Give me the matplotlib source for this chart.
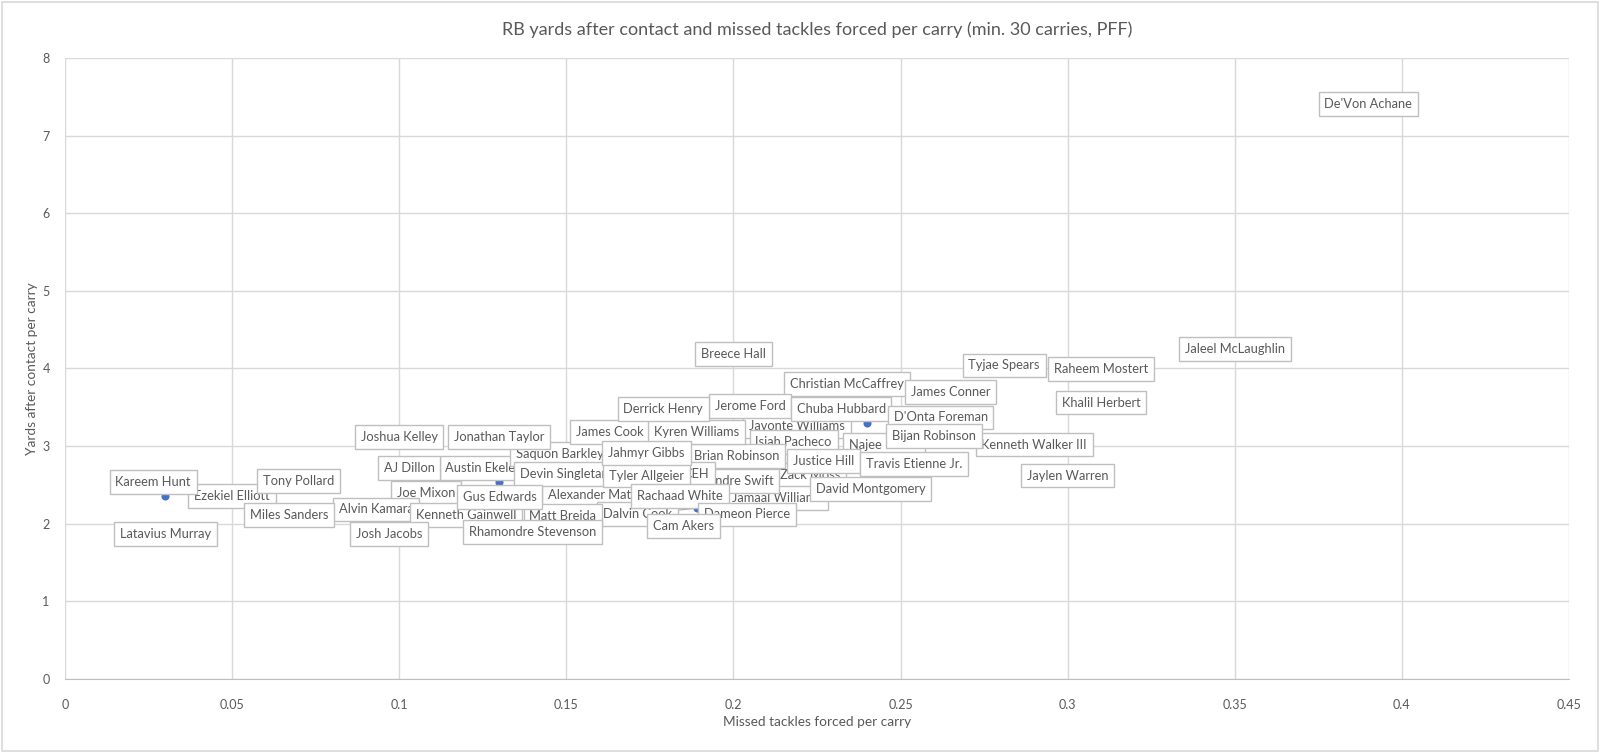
import matplotlib.pyplot as plt
from matplotlib.patches import Rectangle

# players, drawn in this order (later labels sit on top)
players = [
    "Ezekiel Elliott", "Zack Moss", "Jamaal Williams", "Austin Ekeler", "Alexander Mattison",
    "D'Andre Swift", "Javonte Williams", "Najee Harris", "Kenneth Walker III", "Saquon Barkley",
    "Devin Singletary", "Joe Mixon", "Alvin Kamara", "Dalvin Cook", "Christian McCaffrey",
    "Jerome Ford", "James Conner", "Chuba Hubbard", "D'Onta Foreman", "Bijan Robinson",
    "Isiah Pacheco", "Justice Hill", "Travis Etienne Jr.", "David Montgomery", "Brian Robinson",
    "CEH", "Tyler Allgeier", "James Cook", "Kyren Williams", "Jahmyr Gibbs",
    "Derrick Henry", "Rachaad White", "Dameon Pierce", "Cam Akers", "Matt Breida",
    "Kenneth Gainwell", "Gus Edwards", "Rhamondre Stevenson", "Josh Jacobs", "Miles Sanders",
    "Latavius Murray", "Kareem Hunt", "Tony Pollard", "AJ Dillon", "Joshua Kelley",
    "Jonathan Taylor", "Jaylen Warren", "Khalil Herbert", "Raheem Mostert", "Tyjae Spears",
    "Breece Hall", "Jaleel McLaughlin", "De'Von Achane",
]

# missed tackles forced per carry
mtf = [
    0.050, 0.223, 0.213, 0.125, 0.161,
    0.200, 0.219, 0.245, 0.290, 0.148,
    0.150, 0.108, 0.100, 0.189, 0.234,
    0.205, 0.265, 0.240, 0.262, 0.260,
    0.218, 0.227, 0.254, 0.241, 0.201,
    0.189, 0.174, 0.163, 0.189, 0.174,
    0.179, 0.184, 0.204, 0.185, 0.149,
    0.120, 0.130, 0.140, 0.097, 0.067,
    0.030, 0.030, 0.070, 0.103, 0.100,
    0.130, 0.300, 0.310, 0.310, 0.281,
    0.200, 0.350, 0.390,
]

# yards after contact per carry
yco = [
    2.36, 2.63, 2.33, 2.72, 2.37,
    2.55, 3.26, 3.02, 3.02, 2.90,
    2.64, 2.40, 2.07, 2.20, 3.80,
    3.52, 3.70, 3.30, 3.37, 3.13,
    3.05, 2.81, 2.77, 2.45, 2.87,
    2.64, 2.62, 3.18, 3.18, 2.91,
    3.48, 2.36, 2.12, 1.97, 2.10,
    2.11, 2.54, 1.89, 1.87, 2.11,
    1.87, 2.36, 2.55, 2.72, 3.12,
    3.12, 2.62, 3.56, 3.99, 4.04,
    4.19, 4.25, 7.41,
]

# labels that were dragged off their point (pixel offsets)
label_shift = {
    "Kareem Hunt": (-12, 14),
    "Chuba Hubbard": (-26, 14),
    "Gus Edwards": (0, -15),
    "Alvin Kamara": (-23, 9),
    "Dalvin Cook": (-59, -6),
}

x_ticks = [0, 0.05, 0.1, 0.15, 0.2, 0.25, 0.3, 0.35, 0.4, 0.45]
y_ticks = [0, 1, 2, 3, 4, 5, 6, 7, 8]

txt = '#595959'
grid = '#D9D9D9'
font = ['Lato', 'DejaVu Sans']
plt.rcParams['font.family'] = font

fig = plt.figure(figsize=(16, 7.52), dpi=100)
ax = fig.add_axes([0.0406, 0.097, 0.9400, 0.826])

ax.scatter(mtf, yco, s=34, color='#4472C4', zorder=3, linewidths=0)

for i, name in enumerate(players):
    dx, dy = label_shift.get(name, (0, 0))
    arrow = None
    if abs(dx) > 40:
        arrow = dict(arrowstyle='-', color='#A6A6A6', lw=0.8, shrinkA=0, shrinkB=3)
    ax.annotate(name, (mtf[i], yco[i]), xytext=(dx, dy), textcoords='offset pixels',
                ha='center', va='center', fontsize=9.3, color=txt, zorder=10 + i,
                bbox=dict(boxstyle='square,pad=0.45', fc='white', ec='#BFBFBF', lw=1),
                arrowprops=arrow)

ax.set_xlim(0, 0.45)
ax.set_ylim(0, 8)
ax.set_xticks(x_ticks)
ax.set_yticks(y_ticks)
ax.set_xticklabels([f"{v:g}" for v in x_ticks])
ax.set_yticklabels([f"{v:g}" for v in y_ticks])
ax.tick_params(length=0, labelsize=9, colors=txt)
ax.tick_params(axis='x', pad=14)
ax.tick_params(axis='y', pad=11)
ax.grid(True, color=grid, lw=1)
ax.set_axisbelow(True)
for s in ['top', 'right', 'left']:
    ax.spines[s].set_visible(False)
ax.spines['bottom'].set_color('#BFBFBF')

fig.text(0.5106, 0.960, "RB yards after contact and missed tackles forced per carry (min. 30 carries, PFF)",
         ha='center', va='center', fontsize=13, color=txt)
fig.text(0.5106, 0.040, "Missed tackles forced per carry", ha='center', va='center',
         fontsize=9.8, color=txt)
fig.text(0.0200, 0.510, "Yards after contact per carry", ha='center', va='center',
         rotation=90, fontsize=9.8, color=txt)

fig.patches.append(Rectangle((0.001, 0.001), 0.998, 0.997, transform=fig.transFigure,
                             fill=False, ec=grid, lw=1.2))

fig.savefig('out.png', dpi=100)
